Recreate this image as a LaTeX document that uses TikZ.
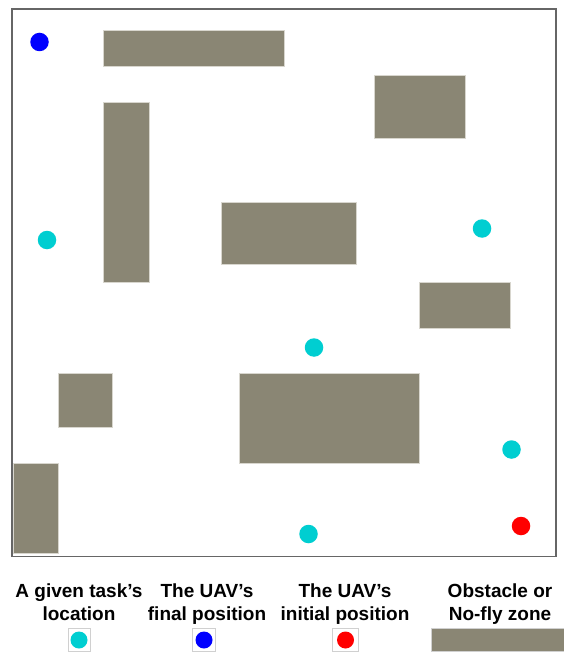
\documentclass[tikz,border=0pt]{standalone}
\usepackage{fontspec}
\setmainfont{Liberation Sans}
\definecolor{obst}{HTML}{8A8674}
\definecolor{obstedge}{HTML}{D8D6CE}
\definecolor{task}{HTML}{00CED1}
\definecolor{frame}{HTML}{666666}
\definecolor{legedge}{HTML}{D0D0D0}
\tikzset{
  obstacle/.style={fill=obst,draw=obstedge,line width=0.6pt},
  dot/.style={circle,inner sep=0pt,minimum size=18.5pt},
  taskdot/.style={dot,fill=task},
  finaldot/.style={dot,fill=blue},
  initdot/.style={dot,fill=red},
  legbox/.style={draw=legedge,line width=0.8pt,fill=white},
  legtext/.style={align=center,font=\bfseries\fontsize{19}{23.5}\selectfont,inner sep=0pt,anchor=base}
}
\begin{document}
\begin{tikzpicture}[x=1pt,y=-1pt]
\useasboundingbox (0,0) rectangle (563,652);
\fill[white] (0,0) rectangle (563,652);
% frame
\draw[frame,line width=1.8pt] (12,9) rectangle (556,556.5);
% obstacles
\draw[obstacle] (103.5,30) rectangle (284,66);
\draw[obstacle] (103.5,102.5) rectangle (149,282.5);
\draw[obstacle] (374.5,75) rectangle (465,138.5);
\draw[obstacle] (221,202) rectangle (356.5,264.5);
\draw[obstacle] (419.5,282.5) rectangle (510,328);
\draw[obstacle] (58.5,373) rectangle (112.5,427);
\draw[obstacle] (239,373) rectangle (419.5,463);
\draw[obstacle] (13,463.5) rectangle (58.5,553.5);
% positions
\node[finaldot] (final) at (39.5,42) {};
\node[taskdot] (t1) at (47,240) {};
\node[taskdot] (t2) at (482,228.5) {};
\node[taskdot] (t3) at (314,347.5) {};
\node[taskdot] (t4) at (511.5,449.5) {};
\node[taskdot] (t5) at (308.5,534) {};
\node[initdot] (init) at (521,526) {};
% legend
\node[legtext] (l1) at (79,620.5) {A given task's\\location};
\node[legtext] (l2) at (207,620.5) {The UAV's\\final position};
\node[legtext] (l3) at (345,620.5) {The UAV's\\initial position};
\node[legtext] (l4) at (500,620.5) {Obstacle or\\No-fly zone};
\draw[legbox] (68,628.5) rectangle (90,651);
\node[taskdot,minimum size=17pt] (lt) at (79,640) {};
\draw[legbox] (192.5,628.5) rectangle (215.5,651);
\node[finaldot,minimum size=17pt] (lf) at (204,640) {};
\draw[legbox] (332.5,628.5) rectangle (358.5,651);
\node[initdot,minimum size=17pt] (li) at (345.5,640) {};
\draw[obstacle,draw=legedge,line width=0.8pt] (431.5,628.5) rectangle (564,651);
\end{tikzpicture}
\end{document}
